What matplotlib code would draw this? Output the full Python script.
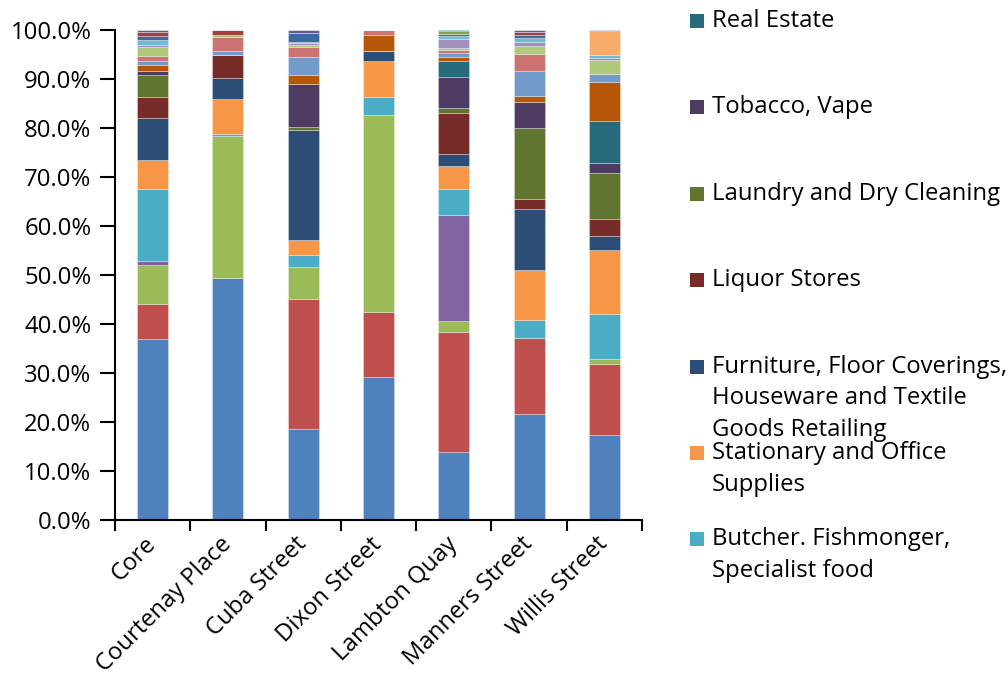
import matplotlib
matplotlib.use("Agg")
import matplotlib.pyplot as plt
import numpy as np
from matplotlib.patches import Rectangle
from matplotlib.ticker import FuncFormatter, FixedLocator

plt.rcParams['font.family'] = ['Open Sans', 'DejaVu Sans']

# ---------------- data ----------------
locations = ["Core", "Courtenay Place", "Cuba Street", "Dixon Street",
             "Lambton Quay", "Manners Street", "Willis Street"]

# order: Core, Courtenay, Cuba, Dixon, Lambton, Manners, Willis (share %)
clothing          = [36.8, 49.5, 18.6, 29.2, 13.8, 21.6, 17.3]
cafes             = [7.2, 0.0, 26.4, 13.3, 24.5, 15.6, 14.6]
takeaways         = [7.9, 28.9, 6.6, 40.1, 2.3, 0.0, 1.0]
pharmacy          = [1.0, 0.0, 0.0, 0.0, 21.5, 0.0, 0.0]
butcher           = [14.6, 0.35, 2.5, 3.7, 5.4, 3.8, 9.2]
stationary        = [5.8, 7.3, 3.0, 7.3, 4.5, 10.2, 13.1]
furniture         = [8.6, 4.3, 22.4, 2.1, 2.6, 12.4, 2.9]
liquor            = [4.4, 4.6, 0.0, 0.0, 8.3, 2.0, 3.5]
laundry           = [4.5, 0.0, 0.8, 0.0, 1.0, 14.5, 9.3]
tobacco           = [0.7, 0.0, 8.7, 0.0, 6.4, 5.4, 2.1]
real_estate       = [0.0, 0.0, 0.0, 0.0, 3.2, 0.0, 8.5]
hair_beauty       = [1.2, 0.0, 1.9, 3.2, 0.8, 1.2, 8.0]
electronics       = [0.9, 0.9, 3.5, 0.0, 0.9, 5.1, 1.8]
bars_pubs         = [1.0, 2.8, 2.1, 1.0, 0.5, 3.4, 0.0]
supermarket       = [1.8, 0.3, 0.5, 0.0, 0.4, 1.8, 2.7]
books_music       = [0.4, 0.0, 0.3, 0.0, 1.8, 0.7, 0.4]
jewellery         = [1.0, 0.0, 0.3, 0.0, 0.6, 0.9, 0.7]
travel            = [0.0, 0.0, 0.0, 0.0, 0.0, 0.0, 4.8]
gifts             = [0.8, 0.0, 1.7, 0.0, 0.5, 0.5, 0.0]
florist           = [0.9, 1.1, 0.0, 0.0, 0.0, 0.6, 0.0]
sports            = [0.0, 0.0, 0.0, 0.0, 0.5, 0.0, 0.0]
other_services    = [0.4, 0.0, 0.7, 0.0, 0.0, 0.5, 0.3]
vacant            = [0.0, 0.0, 0.0, 0.0, 0.3, 0.0, 0.0]

series_labels = [
    "Clothing and Footwear", "Cafes and Restaurants", "Takeaway Food",
    "Pharmacy", "Butcher. Fishmonger,\nSpecialist food",
    "Stationary and Office\nSupplies",
    "Furniture, Floor Coverings,\nHouseware and Textile\nGoods Retailing",
    "Liquor Stores", "Laundry and Dry Cleaning", "Tobacco, Vape",
    "Real Estate", "Hair and Beauty", "Electronics", "Bars and Pubs",
    "Supermarket", "Books and Music", "Jewellery", "Travel", "Gifts",
    "Florist", "Sports", "Other Services", "Vacant",
]
series_values = [clothing, cafes, takeaways, pharmacy, butcher, stationary,
                 furniture, liquor, laundry, tobacco, real_estate, hair_beauty,
                 electronics, bars_pubs, supermarket, books_music, jewellery,
                 travel, gifts, florist, sports, other_services, vacant]
series_colors = ["#4F81BD", "#C0504D", "#9BBB59", "#8064A2", "#4BACC6",
                 "#F79646", "#2C4D75", "#772C2A", "#5F7530", "#4D3B62",
                 "#276A7C", "#B65708", "#729ACA", "#CD7371", "#AFC97A",
                 "#A18FBF", "#6FBDD1", "#F9AB6B", "#3C6BA3", "#A33F3C",
                 "#84A34A", "#6B5A92", "#2F8099"]

legend_series = [10, 9, 8, 7, 6, 5, 4]   # shown legend entries, top to bottom

FS = 17.2

# ---------------- figure ----------------
W, H = 1006, 684
fig = plt.figure(figsize=(W / 100, H / 100), dpi=100)
ax = fig.add_axes([115 / W, 1 - 520 / H, (642 - 115) / W, (520 - 30) / H])

vals = np.array(series_values, dtype=float)
shares = vals / vals.sum(axis=0) * 100.0
x = np.arange(len(locations))
bottom = np.zeros(len(locations))
for i in range(len(series_values)):
    ax.bar(x, shares[i], bottom=bottom, width=0.41, color=series_colors[i],
           edgecolor=(1, 1, 1, 0.35), linewidth=0.6, label=series_labels[i])
    bottom += shares[i]

ax.set_xlim(-0.5, len(locations) - 0.5)
ax.set_ylim(0, 100)
ax.yaxis.set_major_locator(FixedLocator(np.arange(0, 101, 10)))
ax.yaxis.set_major_formatter(FuncFormatter(lambda v, p: f"{v:.1f}%"))

ax.set_xticks(x)
ax.set_xticklabels(locations, rotation=45, ha='right', va='center',
                   rotation_mode='anchor')
ax.set_xticks(np.arange(-0.5, len(locations), 1.0), minor=True)
ax.tick_params(axis='x', which='major', length=0, pad=15, labelsize=FS)
ax.tick_params(axis='x', which='minor', length=8, width=1.5, direction='out')
ax.tick_params(axis='y', length=11, width=1.5, direction='out', pad=6,
               labelsize=FS)

for s in ['top', 'right']:
    ax.spines[s].set_visible(False)
for s in ['left', 'bottom']:
    ax.spines[s].set_linewidth(1.5)
    ax.spines[s].set_color('black')

# ---------------- legend (manual, Excel-like, clipped) ----------------
entry_y0 = 21.0
entry_step = 86.4
line_step = 31.7
for k, idx in enumerate(legend_series):
    yc = entry_y0 + k * entry_step
    fig.patches.append(Rectangle((690 / W, 1 - (yc + 7) / H), 14 / W, 14 / H,
                                 transform=fig.transFigure,
                                 facecolor=series_colors[idx], edgecolor='none'))
    for j, line in enumerate(series_labels[idx].split("\n")):
        fig.text(712 / W, 1 - (yc + j * line_step) / H, line, fontsize=FS,
                 ha='left', va='center', color='black')

fig.savefig("out.png", dpi=100)
